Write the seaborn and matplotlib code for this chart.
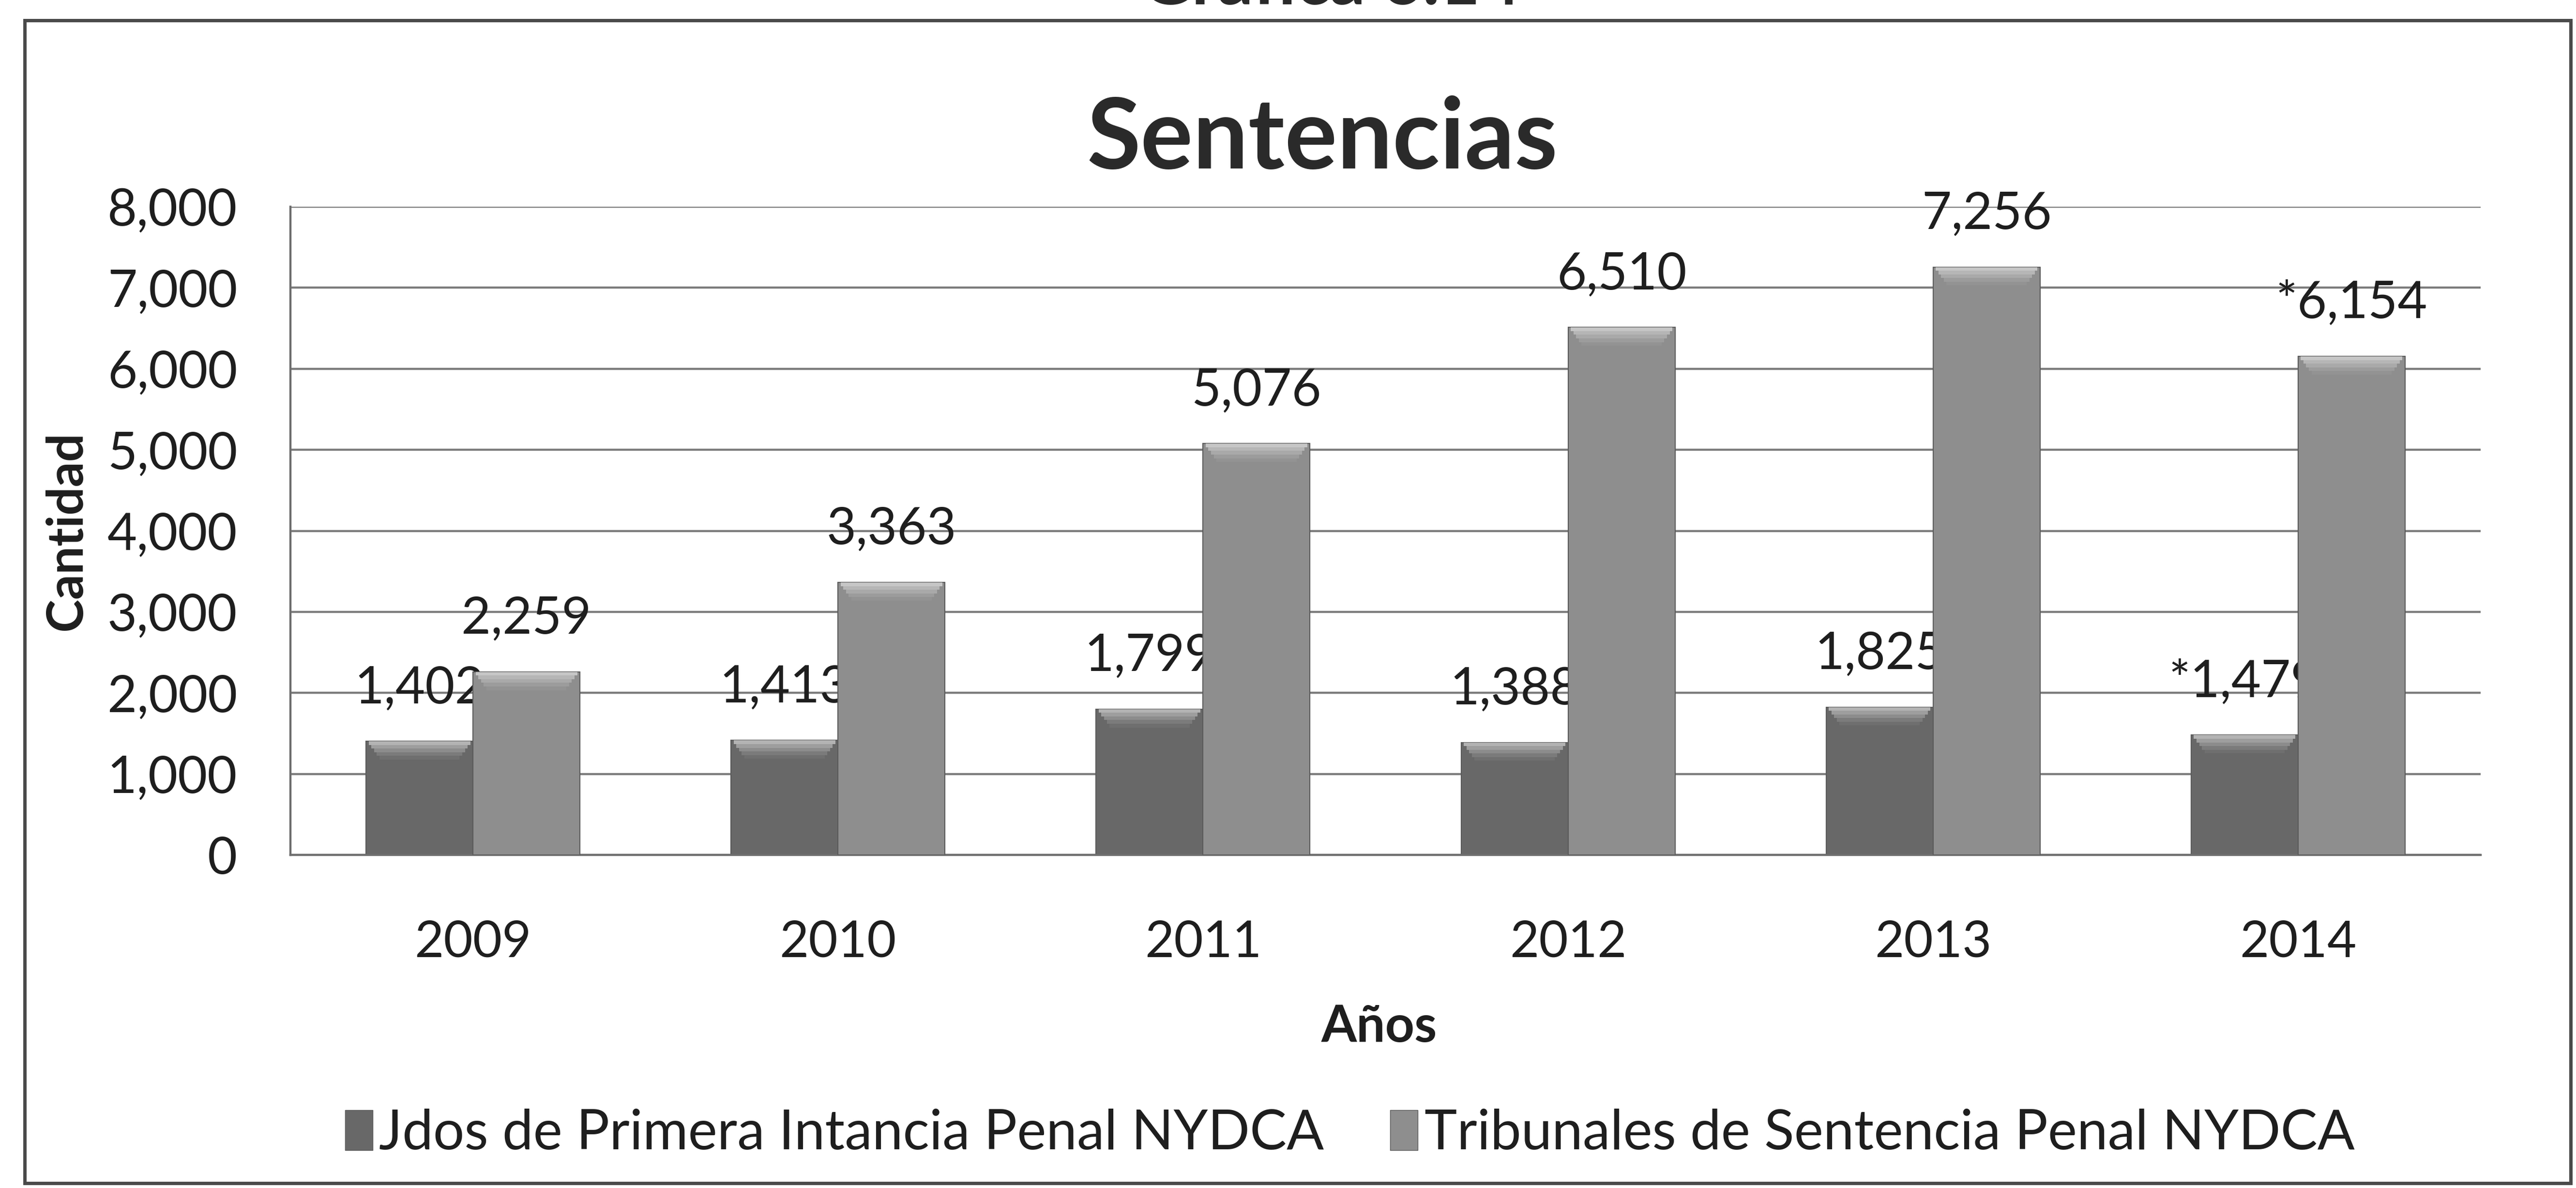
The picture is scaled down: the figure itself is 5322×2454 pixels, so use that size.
import numpy as np
import pandas as pd
import matplotlib
matplotlib.use("Agg")
import matplotlib.pyplot as plt
from matplotlib.patches import Rectangle
from matplotlib.ticker import FuncFormatter
import seaborn as sns

# Datos
anios = ["2009", "2010", "2011", "2012", "2013", "2014"]
jdos = [1402, 1413, 1799, 1388, 1825, 1479]
tribunales = [2259, 3363, 5076, 6510, 7256, 6154]
etiquetas_jdos = ["1,402", "1,413", "1,799", "1,388", "1,825", "*1,479"]
etiquetas_trib = ["2,259", "3,363", "5,076", "6,510", "7,256", "*6,154"]
series = ["Jdos de Primera Intancia Penal NYDCA", "Tribunales de Sentencia Penal NYDCA"]
colores = ["#686868", "#8e8e8e"]

df = pd.DataFrame({
    "Años": anios * 2,
    "Cantidad": jdos + tribunales,
    "Serie": [series[0]] * len(anios) + [series[1]] * len(anios),
})

sns.set_style("white")
plt.rcParams['font.family'] = ['Lato', 'DejaVu Sans']

fig = plt.figure(figsize=(53.22, 24.54), dpi=100)
ax = fig.add_axes([600 / 5322, 1 - 1766 / 2454, 4525 / 5322, 1339 / 2454])

sns.barplot(data=df, x="Años", y="Cantidad", hue="Serie", palette=colores,
            width=0.586, saturation=1, ax=ax, legend=False,
            edgecolor="#5a5a5a", linewidth=1.5)

# las etiquetas de la primera serie quedan detrás de las barras de la segunda
zb = [2, 3]
zl = [2.5, 4]
alfas = [0.5, 0.36, 0.24, 0.13, 0.05]
for i, (cont, labs) in enumerate(zip(ax.containers, [etiquetas_jdos, etiquetas_trib])):
    for b in cont:
        b.set_zorder(zb[i])
        # brillo superior (bisel) que se desvanece hacia abajo
        paso = 45
        for k, a in enumerate(alfas):
            ins = b.get_width() * 0.025 * (k + 1)
            ax.add_patch(Rectangle((b.get_x() + ins, b.get_height() - paso * (k + 1)),
                                   b.get_width() - 2 * ins, paso,
                                   facecolor="white", alpha=a, lw=0, zorder=zb[i] + 0.1))
    for t in ax.bar_label(cont, labels=labs, padding=44, fontsize=76, color="#1e1e1e"):
        t.set_zorder(zl[i])

ax.set_ylim(0, 8000)
ax.set_yticks(np.arange(0, 8001, 1000))
ax.yaxis.set_major_formatter(FuncFormatter(lambda v, p: f"{int(v):,}"))
ax.yaxis.grid(True, color="#7c7c7c", lw=3.2)
ax.set_axisbelow(True)
for s in ["top", "right"]:
    ax.spines[s].set_visible(False)
for s in ["left", "bottom"]:
    ax.spines[s].set_color("#6e6e6e")
    ax.spines[s].set_linewidth(3.2)

ax.tick_params(axis="y", length=29, width=3, color="#6e6e6e", pad=50,
               labelsize=76, labelcolor="#1e1e1e")
ax.tick_params(axis="x", length=0, pad=96, labelsize=75, labelcolor="#1e1e1e")

ax.set_xlabel("Años", fontsize=76, fontweight="bold", color="#1e1e1e")
ax.xaxis.set_label_coords(0.497, -0.266)
ax.xaxis.label.set_va("center")
ax.set_ylabel("Cantidad", fontsize=74, fontweight="bold", color="#1e1e1e")
ax.yaxis.set_label_coords(-0.102, 0.5)
ax.yaxis.label.set_va("center")

fig.text(0.5134, 0.882, "Sentencias", ha="center", va="center",
         fontsize=146, fontweight="bold", color="#2a2a2a")
# título superior, cortado por el borde de la imagen escaneada
fig.text(0.5166, 1 - 9 / 2454, "Gráfica 6.14", ha="center", va="baseline",
         fontsize=104, fontweight="bold", color="#2a2a2a")

handles = [Rectangle((0, 0), 1, 1, facecolor=c, edgecolor="#5a5a5a") for c in colores]
fig.legend(handles, series, loc="center", bbox_to_anchor=(0.524, 0.0456), ncol=2,
           frameon=False, fontsize=82, handlelength=0.5, handleheight=0.75,
           handletextpad=0.12, columnspacing=1.2, labelcolor="#1e1e1e")

# marco exterior del gráfico
fig.patches.append(Rectangle((0.0096, 0.004), 0.9884, 0.979, transform=fig.transFigure,
                             fill=False, edgecolor="#4a4a4a", lw=5))

fig.savefig("out.png", dpi=100)
